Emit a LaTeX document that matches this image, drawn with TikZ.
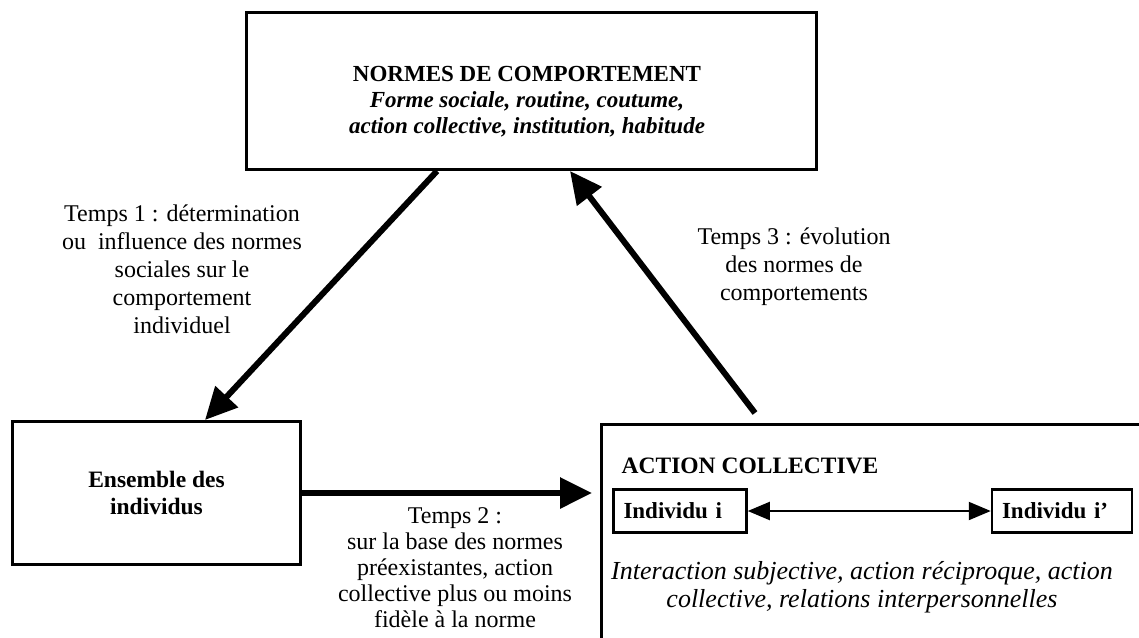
\documentclass[tikz,border=0pt]{standalone}
\usepackage{fontspec}
\setmainfont{Liberation Serif}
\usetikzlibrary{arrows.meta}
\begin{document}
\begin{tikzpicture}[x=1pt,y=-1pt,
  box/.style={draw, line width=3pt, inner sep=0pt},
  smallbox/.style={draw, line width=2.5pt, inner xsep=10pt, inner ysep=0pt, minimum height=43pt, align=left, font=\fontsize{23}{27}\selectfont\bfseries},
  bigarrow/.style={line width=6pt, -{Triangle[length=32pt,width=30pt]}},
  lbl/.style={align=center, inner sep=0pt, anchor=north, font=\fontsize{24}{28}\selectfont},
  ttl/.style={align=center, inner sep=0pt, font=\fontsize{23.5}{27}\selectfont\bfseries},
]
\path[use as bounding box, clip] (0,0) rectangle (1139,637);

% boxes
\node[box, minimum width=570pt, minimum height=157pt, anchor=north west] (norms) at (245,11) {};
\node[align=center, inner sep=0pt, anchor=north, font=\fontsize{23}{26}\selectfont\bfseries] (normstxt) at (527,66) {NORMES DE COMPORTEMENT\\
  {\fontsize{23}{26}\selectfont\itshape Forme sociale, routine, coutume,}\\
  {\fontsize{23}{26}\selectfont\itshape action collective, institution, habitude}};

\node[box, minimum width=288pt, minimum height=143pt, anchor=north west] (ens) at (11,420) {};
\node[ttl] (enstxt) at (ens.center) {Ensemble des\\individus};

\node[box, minimum width=560pt, minimum height=240pt, anchor=north west] (action) at (600,423) {};
\node[ttl] (acttxt) at (750,466) {ACTION COLLECTIVE};

\node[smallbox, text width=113pt] (indi) at (680,511) {Individu i};
\node[smallbox, text width=120pt] (indj) at (1062,511) {Individu i’};

\draw[line width=2pt, {Triangle[length=22pt,width=18pt]}-{Triangle[length=22pt,width=18pt]}] (indi.east) -- (indj.west);

\begin{scope}
\clip (600,540) rectangle (1122,637);
\node[align=center, inner sep=0pt, anchor=north, font=\fontsize{26}{28}\selectfont\itshape] (inter) at (862,561)
  {Interaction subjective, action réciproque, action\\collective, relations interpersonnelles};
\end{scope}

% connectors
\draw[bigarrow] ([xshift=192pt]norms.south west) -- ([xshift=194pt]ens.north west);
\draw[bigarrow] ([xshift=155pt,yshift=10pt]action.north west) -- ([xshift=325pt]norms.south west);
\draw[bigarrow] (ens.east) -- ++(290,0);

% labels
\node[lbl] (t1) at (182,205) {Temps 1 : détermination\\ou~ influence des normes\\sociales sur le\\comportement\\individuel};
\node[lbl] (t3) at (794,228) {Temps 3 : évolution\\des normes de\\comportements};
\node[lbl, font=\fontsize{24}{26}\selectfont] (t2) at (455,507) {Temps 2 :\\sur la base des normes\\préexistantes, action\\collective plus ou moins\\fidèle à la norme};
\end{tikzpicture}
\end{document}
